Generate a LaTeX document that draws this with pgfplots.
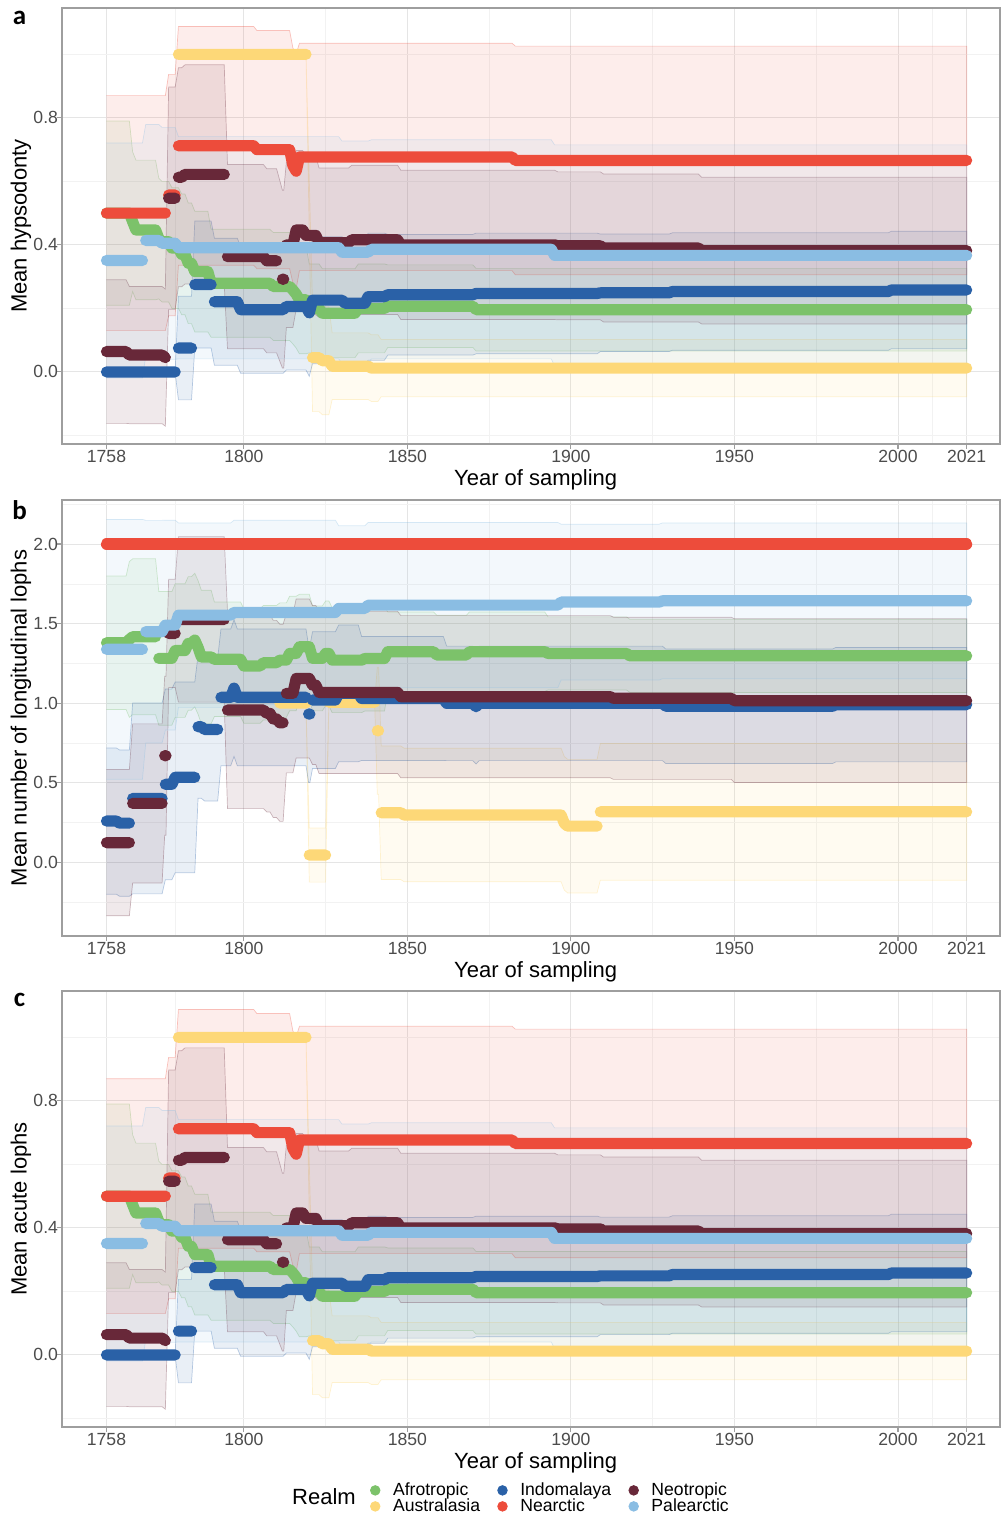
\documentclass[border=0pt]{standalone}
\usepackage{fontspec}
\setmainfont{Liberation Sans}
\newfontfamily\carlito{Carlito}
\usepackage{pgfplots}
\pgfplotsset{compat=1.18}
\usepackage{pgfplotstable}

\definecolor{afro}{RGB}{124,194,106}
\definecolor{aust}{RGB}{253,216,120}
\definecolor{indo}{RGB}{42,97,167}
\definecolor{nea}{RGB}{237,76,59}
\definecolor{neo}{RGB}{104,40,57}
\definecolor{pal}{RGB}{138,189,227}

% ---------------- Panel a (and c) ----------------
\pgfplotstableread{
x m e
1758 0.5 0.29
1765 0.5 0.29
1766 0.473 0.22
1767 0.447 0.22
1773 0.447 0.22
1774 0.42 0.19
1775 0.41 0.19
1777 0.41 0.19
1778 0.39 0.19
1780 0.39 0.19
1781 0.37 0.19
1782 0.37 0.19
1783 0.342 0.19
1784 0.342 0.19
1785 0.316 0.19
1789 0.316 0.19
1790 0.279 0.17
1808 0.279 0.17
1809 0.269 0.17
1814 0.269 0.17
1815 0.258 0.17
1816 0.245 0.17
1817 0.227 0.17
1819 0.227 0.17
1820 0.2 0.14
1823 0.2 0.14
1824 0.185 0.14
1834 0.185 0.14
1835 0.2 0.14
1843 0.2 0.14
1844 0.207 0.13
1870 0.207 0.13
1871 0.196 0.13
2021 0.196 0.13
}\AAfro
\pgfplotstableread{
x m e
1780 1.0 0.003
1819 1.0 0.003
nan 0 0
1821 0.045 0.17
1823 0.045 0.17
1824 0.035 0.17
1826 0.035 0.17
1827 0.018 0.105
1838 0.018 0.105
1839 0.012 0.105
1841 0.012 0.105
1842 0.012 0.09
2021 0.012 0.09
}\AAust
\pgfplotstableread{
x m e
1758 0.0 0.003
1779 0.0 0.003
nan 0 0
1780 0.075 0.163
1784 0.075 0.163
nan 0 0
1785 0.275 0.2
1790 0.275 0.2
nan 0 0
1791 0.221 0.2
1798 0.221 0.2
1799 0.196 0.2
1812 0.196 0.2
1813 0.206 0.2
1819 0.206 0.2
1820 0.186 0.2
1821 0.226 0.2
1830 0.226 0.2
1831 0.216 0.2
1837 0.216 0.2
1838 0.237 0.2
1843 0.237 0.2
1844 0.243 0.19
1870 0.243 0.19
1871 0.247 0.19
1908 0.247 0.19
1909 0.249 0.185
1930 0.249 0.185
1931 0.253 0.185
1997 0.253 0.185
1998 0.258 0.185
2021 0.258 0.185
}\AIndo
\pgfplotstableread{
x m e
1758 0.5 0.37
1776 0.5 0.37
nan 0 0
1777 0.557 0.38
1779 0.557 0.38
nan 0 0
1780 0.712 0.376
1803 0.712 0.376
1804 0.70 0.375
1814 0.70 0.375
1815 0.65 0.37
1816 0.632 0.37
1817 0.677 0.358
1882 0.677 0.358
1883 0.666 0.36
2021 0.666 0.36
}\ANea
\pgfplotstableread{
x m e
1758 0.064 0.226
1764 0.064 0.226
1765 0.053 0.216
1775 0.053 0.216
1776 0.045 0.216
nan 0 0
1777 0.547 0.35
1779 0.547 0.35
nan 0 0
1780 0.613 0.345
1781 0.613 0.345
1782 0.622 0.345
1794 0.622 0.345
nan 0 0
1795 0.363 0.29
1806 0.363 0.29
1807 0.35 0.29
1810 0.35 0.29
nan 0 0
1811.8 0.292 0.28
1812.2 0.292 0.28
nan 0 0
1813 0.40 0.26
1815 0.40 0.26
1816 0.447 0.25
1818 0.447 0.25
1819 0.43 0.25
1822 0.43 0.25
1823 0.407 0.235
1832 0.407 0.235
1833 0.416 0.235
1847 0.416 0.235
1848 0.40 0.235
1895 0.40 0.235
1896 0.397 0.233
1909 0.397 0.233
1910 0.39 0.233
1939 0.39 0.233
1940 0.382 0.231
2021 0.382 0.231
}\ANeo
\pgfplotstableread{
x m e
1758 0.351 0.37
1769 0.351 0.37
nan 0 0
1770 0.414 0.365
1774 0.414 0.365
1775 0.405 0.365
1779 0.405 0.365
1780 0.391 0.35
1829 0.391 0.35
1830 0.377 0.35
1838 0.377 0.35
1839 0.386 0.345
1894 0.386 0.345
1895 0.367 0.348
2021 0.367 0.348
}\APal

% ---------------- Panel b ----------------
\pgfplotstableread{
x m e
1758 1.379 0.42
1764 1.379 0.42
1765 1.40 0.49
1766 1.417 0.49
1773 1.417 0.49
nan 0 0
1774 1.281 0.42
1778 1.281 0.42
1779 1.33 0.42
1782 1.33 0.42
1783 1.375 0.42
1784 1.375 0.42
1785 1.396 0.42
1786 1.35 0.42
1787 1.29 0.42
1790 1.29 0.42
1791 1.275 0.36
1799 1.275 0.36
1800 1.233 0.36
1805 1.233 0.36
1806 1.254 0.36
1810 1.254 0.36
1811 1.27 0.36
1813 1.27 0.36
1814 1.312 0.36
1816 1.312 0.36
1817 1.354 0.33
1820 1.354 0.33
1821 1.281 0.33
1824 1.281 0.33
1825 1.312 0.33
1826 1.312 0.33
1827 1.27 0.33
1836 1.27 0.33
1837 1.28 0.33
1843 1.28 0.33
1844 1.323 0.25
1858 1.323 0.25
1859 1.302 0.25
1868 1.302 0.25
1869 1.323 0.25
1892 1.323 0.25
1893 1.312 0.23
1917 1.312 0.23
1918 1.297 0.23
2021 1.297 0.23
}\BAfro
\pgfplotstableread{
x m e
1811 1.0 0.004
1819 1.0 0.004
nan 0 0
1820 0.044 0.17
1825 0.044 0.17
nan 0 0
1826 1.005 0.004
1840 1.005 0.004
nan 0 0
1840.8 0.826 0.4
1841.2 0.826 0.4
nan 0 0
1842 0.31 0.42
1848 0.31 0.42
1849 0.296 0.42
1897 0.296 0.42
1898 0.243 0.42
1899 0.226 0.42
1908 0.226 0.42
nan 0 0
1909 0.316 0.43
2021 0.316 0.43
}\BAust
\pgfplotstableread{
x m e
1758 0.258 0.46
1761 0.258 0.46
1762 0.245 0.46
1765 0.245 0.46
nan 0 0
1766 0.40 0.6
1775 0.40 0.6
nan 0 0
1776 0.489 0.6
1778 0.489 0.6
1779 0.533 0.6
1785 0.533 0.6
nan 0 0
1786 0.851 0.45
1787 0.851 0.45
1788 0.834 0.45
1792 0.834 0.45
nan 0 0
1793 1.036 0.43
1796 1.036 0.43
1797 1.094 0.43
1798 1.036 0.43
1819 1.036 0.43
nan 0 0
1819.8 0.931 0.43
1820.2 0.931 0.43
nan 0 0
1821 1.019 0.43
1828 1.019 0.43
1829 1.061 0.43
1835 1.061 0.43
1836 1.029 0.39
1861 1.029 0.39
1862 0.998 0.36
1870 0.998 0.36
1871 0.977 0.36
1872 0.998 0.36
1928 0.998 0.36
1929 0.98 0.36
1980 0.98 0.36
1981 0.99 0.36
2021 0.99 0.36
}\BIndo
\pgfplotstableread{
x m e
1758 2.0 0
2021 2.0 0
}\BNea
\pgfplotstableread{
x m e
1758 0.122 0.46
1765 0.122 0.46
nan 0 0
1766 0.369 0.5
1775 0.369 0.5
nan 0 0
1775.8 0.669 0.5
1776.2 0.669 0.5
nan 0 0
1777 1.438 0.34
1779 1.438 0.34
nan 0 0
1780 1.526 0.52
1794 1.526 0.52
nan 0 0
1795 0.956 0.62
1806 0.956 0.62
1807 0.935 0.62
1808 0.935 0.62
1809 0.90 0.62
1810 0.90 0.62
1811 0.876 0.62
1812 0.876 0.62
nan 0 0
1813 1.061 0.5
1815 1.061 0.5
1816 1.155 0.5
1820 1.155 0.5
1821 1.113 0.5
1822 1.113 0.5
1823 1.067 0.51
1847 1.067 0.51
1848 1.04 0.51
1912 1.04 0.51
1913 1.03 0.51
1949 1.03 0.51
1950 1.015 0.515
2021 1.015 0.515
}\BNeo
\pgfplotstableread{
x m e
1758 1.338 0.817
1769 1.338 0.817
nan 0 0
1770 1.449 0.70
1775 1.449 0.70
1776 1.49 0.66
1779 1.49 0.66
1780 1.553 0.58
1796 1.553 0.58
1797 1.57 0.58
1828 1.57 0.58
1829 1.595 0.52
1837 1.595 0.52
1838 1.616 0.52
1896 1.616 0.52
1897 1.635 0.49
1927 1.635 0.49
1928 1.643 0.49
2021 1.643 0.49
}\BPal

% band polygon: upper edge forward, lower edge backward
\newcommand{\mkband}[2]{%
  \pgfplotstablecreatecol[create col/expr={\pgfplotstablerow}]{idx}{#1}%
  \pgfplotstablesort[sort key=idx, sort cmp={float <}]{#2}{#1}%
  \pgfplotstablecreatecol[create col/expr={\thisrow{m}+\thisrow{e}}]{b}{#2}%
  \pgfplotstablesort[sort key=idx, sort cmp={float >}]{\tmprev}{#1}%
  \pgfplotstablecreatecol[create col/expr={\thisrow{m}-\thisrow{e}}]{b}{\tmprev}%
  \pgfplotstablevertcat{#2}{\tmprev}%
}
\mkband{\AAfro}{\AAfroB}
\mkband{\AAust}{\AAustB}
\mkband{\AIndo}{\AIndoB}
\mkband{\ANea}{\ANeaB}
\mkband{\ANeo}{\ANeoB}
\mkband{\APal}{\APalB}
\mkband{\BAfro}{\BAfroB}
\mkband{\BAust}{\BAustB}
\mkband{\BIndo}{\BIndoB}
\mkband{\BNeo}{\BNeoB}
\mkband{\BPal}{\BPalB}

\newcommand{\errband}[2]{%
  \addplot[fill=#2, fill opacity=0.10, draw=#2, draw opacity=0.32, line width=0.35pt, unbounded coords=discard, forget plot] table[x=x, y=b] {#1};
}
\newcommand{\meanline}[2]{%
  \addplot[draw=#2, line width=5.6pt, line cap=round, line join=round, unbounded coords=jump, forget plot] table[x=x, y=m] {#1};
}

\pgfplotsset{
  panel/.style={
    scale only axis, width=469pt, height=218pt,
    xmin=1744.4, xmax=2031.2,
    xtick={1758,1800,1850,1900,1950,2000,2021},
    xticklabels={1758,1800,1850,1900,1950,2000,2021},
    minor xtick={1779,1825,1875,1925,1975,2010.5},
    grid=both,
    major grid style={draw=black!10, line width=0.45pt},
    minor grid style={draw=black!5, line width=0.3pt},
    axis line style={draw=black!38, line width=0.55pt},
    tick pos=left, tick align=outside,
    major tick length=2.5pt, minor tick length=0pt,
    tick style={draw=black!38, line width=0.55pt},
    ticklabel style={font=\fontsize{8.8}{10}\selectfont, text=black!70},
    xticklabel style={yshift=3pt},
    yticklabel style={xshift=4pt},
    /pgf/number format/assume math mode=true,
    xlabel={Year of sampling},
    label style={font=\fontsize{11}{13}\selectfont},
    xlabel style={at={(axis description cs:0.505,0)}, anchor=north, yshift=-12.5pt, inner sep=0pt},
    ylabel style={at={(axis description cs:-0.0437,0.5)}, anchor=center},
  }
}

\begin{document}
\begin{tikzpicture}
\useasboundingbox (0,0) rectangle (501pt,-759.5pt);

% ---------- a ----------
\begin{axis}[panel, at={(31pt,-4pt)}, anchor=north west,
  ymin=-0.227, ymax=1.146, ytick={0,0.4,0.8}, yticklabels={0.0,0.4,0.8},
  minor ytick={-0.2,0.2,0.6,1.0}, ylabel={Mean hypsodonty}]
\errband{\AAfroB}{afro}
\errband{\AAustB}{aust}
\errband{\AIndoB}{indo}
\errband{\ANeaB}{nea}
\errband{\ANeoB}{neo}
\errband{\APalB}{pal}
\meanline{\AAfro}{afro}
\meanline{\AAust}{aust}
\meanline{\AIndo}{indo}
\meanline{\ANea}{nea}
\meanline{\ANeo}{neo}
\meanline{\APal}{pal}
\end{axis}

% ---------- b ----------
\begin{axis}[panel, at={(31pt,-250pt)}, anchor=north west,
  ymin=-0.465, ymax=2.277, ytick={0,0.5,1,1.5,2}, yticklabels={0.0,0.5,1.0,1.5,2.0},
  minor ytick={-0.25,0.25,0.75,1.25,1.75,2.25}, ylabel={Mean number of longitudinal lophs}]
\errband{\BAfroB}{afro}
\errband{\BAustB}{aust}
\errband{\BIndoB}{indo}
\errband{\BNeoB}{neo}
\errband{\BPalB}{pal}
\meanline{\BAfro}{afro}
\meanline{\BAust}{aust}
\meanline{\BIndo}{indo}
\meanline{\BNea}{nea}
\meanline{\BNeo}{neo}
\meanline{\BPal}{pal}
\end{axis}

% ---------- c ----------
\begin{axis}[panel, at={(31pt,-495.5pt)}, anchor=north west,
  ymin=-0.227, ymax=1.146, ytick={0,0.4,0.8}, yticklabels={0.0,0.4,0.8},
  minor ytick={-0.2,0.2,0.6,1.0}, ylabel={Mean acute lophs},
  legend columns=3,
  legend image code/.code={\draw[#1] plot coordinates {(2.6pt,0pt)};},
  legend style={draw=none, fill=none, inner sep=0pt,
    at={(axis description cs:0.3284,-0.1261)}, anchor=north west,
    font=\fontsize{8.8}{9}\selectfont,
    nodes={inner sep=0pt, text height=6.4pt, text depth=1.6pt},
    /tikz/every odd column/.append style={column sep=6.5pt},
    /tikz/every even column/.append style={column sep=8.8pt}},
  legend cell align=left]
\errband{\AAfroB}{afro}
\errband{\AAustB}{aust}
\errband{\AIndoB}{indo}
\errband{\ANeaB}{nea}
\errband{\ANeoB}{neo}
\errband{\APalB}{pal}
\meanline{\AAfro}{afro}
\meanline{\AAust}{aust}
\meanline{\AIndo}{indo}
\meanline{\ANea}{nea}
\meanline{\ANeo}{neo}
\meanline{\APal}{pal}
\addlegendimage{only marks, mark=*, mark size=2.4pt, color=afro}
\addlegendentry{Afrotropic}
\addlegendimage{only marks, mark=*, mark size=2.4pt, color=indo}
\addlegendentry{Indomalaya}
\addlegendimage{only marks, mark=*, mark size=2.4pt, color=neo}
\addlegendentry{Neotropic}
\addlegendimage{only marks, mark=*, mark size=2.4pt, color=aust}
\addlegendentry{Australasia}
\addlegendimage{only marks, mark=*, mark size=2.4pt, color=nea}
\addlegendentry{Nearctic}
\addlegendimage{only marks, mark=*, mark size=2.4pt, color=pal}
\addlegendentry{Palearctic}
\end{axis}

\node[font=\fontsize{11}{13}\selectfont] at (162pt,-748.5pt) {Realm};
\node[font=\carlito\bfseries\fontsize{13.5}{13.5}\selectfont] at (9.8pt,-9pt) {a};
\node[font=\carlito\bfseries\fontsize{13.5}{13.5}\selectfont] at (9.8pt,-255pt) {b};
\node[font=\carlito\bfseries\fontsize{13.5}{13.5}\selectfont] at (9.8pt,-500pt) {c};
\end{tikzpicture}
\end{document}
